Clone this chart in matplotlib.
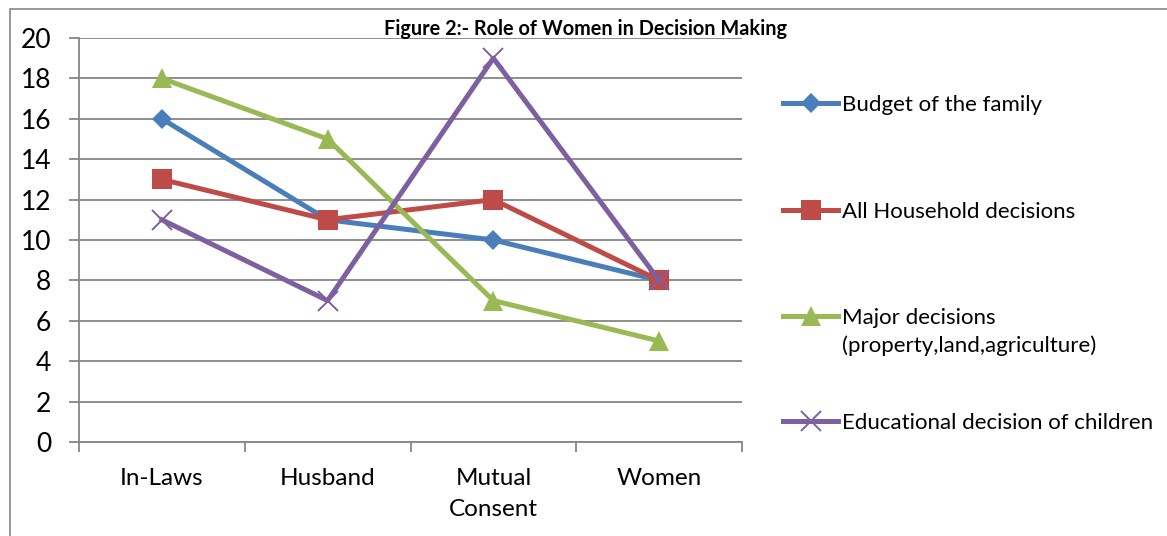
import matplotlib
matplotlib.use("Agg")
import matplotlib.pyplot as plt
from matplotlib.lines import Line2D
from matplotlib.patches import Rectangle
from matplotlib.ticker import FixedLocator, NullFormatter

plt.rcParams['font.family'] = ['Lato', 'DejaVu Sans']

categories = ["In-Laws", "Husband", "Mutual\nConsent", "Women"]
budget = [16, 11, 10, 8]
household = [13, 11, 12, 8]
major = [18, 15, 7, 5]
educational = [11, 7, 19, 8]

series_names = [
    "Budget of the family",
    "All Household decisions",
    "Major decisions\n(property,land,agriculture)",
    "Educational decision of children",
]
series_values = [budget, household, major, educational]
colors = ["#4A7EBB", "#BE4B48", "#98B954", "#7D60A0"]
markers = ["D", "s", "^", "x"]
marker_sizes = [10, 14, 14, 14]

W, H = 1167, 536
fig = plt.figure(figsize=(W / 100, H / 100), dpi=100)

# outer chart frame (only top and left edges fall inside the canvas)
fig.add_artist(Rectangle((10 / W, -0.1), 1.2, 1 - 9 / H + 0.1,
                         transform=fig.transFigure, fill=False,
                         edgecolor="#868686", linewidth=1.2))

ax = fig.add_axes([79 / W, 1 - 442 / H, (742 - 79) / W, (442 - 38) / H])
x = list(range(len(categories)))

LW = 3.6
for vals, c, m, ms in zip(series_values, colors, markers, marker_sizes):
    ax.plot(x, vals, color=c, linewidth=LW, marker=m, markersize=ms,
            markeredgewidth=1.4 if m == "x" else 0, markerfacecolor=c,
            markeredgecolor=c, zorder=3)

ax.set_xlim(-0.5, len(categories) - 0.5)
ax.set_ylim(0, 20)
ax.set_yticks(range(0, 21, 2))
ax.yaxis.grid(True, color="#868686", linewidth=1.3)
ax.set_axisbelow(True)

ax.set_xticks(x)
ax.set_xticklabels(categories, linespacing=1.62)
ax.xaxis.set_minor_locator(FixedLocator([i - 0.5 for i in range(len(categories) + 1)]))
ax.xaxis.set_minor_formatter(NullFormatter())
ax.tick_params(axis="x", which="major", length=0, pad=18.5, labelsize=17.5)
ax.tick_params(axis="x", which="minor", length=7, width=1.3, color="#868686")
ax.tick_params(axis="y", length=7, width=1.3, color="#868686", pad=13, labelsize=19)

for s in ["top", "right"]:
    ax.spines[s].set_visible(False)
for s in ["left", "bottom"]:
    ax.spines[s].set_color("#868686")
    ax.spines[s].set_linewidth(1.3)

fig.text(586 / W, 1 - 29 / H, "Figure 2:- Role of Women in Decision Making",
         ha="center", va="center", fontsize=14.3, fontweight="bold")

# legend entries drawn on the figure
legend_y = [103, 210, 316, 421]
for name, c, m, ms, yy in zip(series_names, colors, markers, marker_sizes, legend_y):
    yf = 1 - yy / H
    fig.add_artist(Line2D([783 / W, 811 / W, 838 / W], [yf, yf, yf],
                          transform=fig.transFigure, color=c, linewidth=LW,
                          marker=m, markersize=ms, markevery=[1],
                          markeredgewidth=1.4 if m == "x" else 0,
                          markerfacecolor=c, markeredgecolor=c))
    fig.text(842 / W, 1 - (yy - 8) / H, name, ha="left", va="top",
             fontsize=16, linespacing=1.45)

fig.savefig("out.png", dpi=100)
